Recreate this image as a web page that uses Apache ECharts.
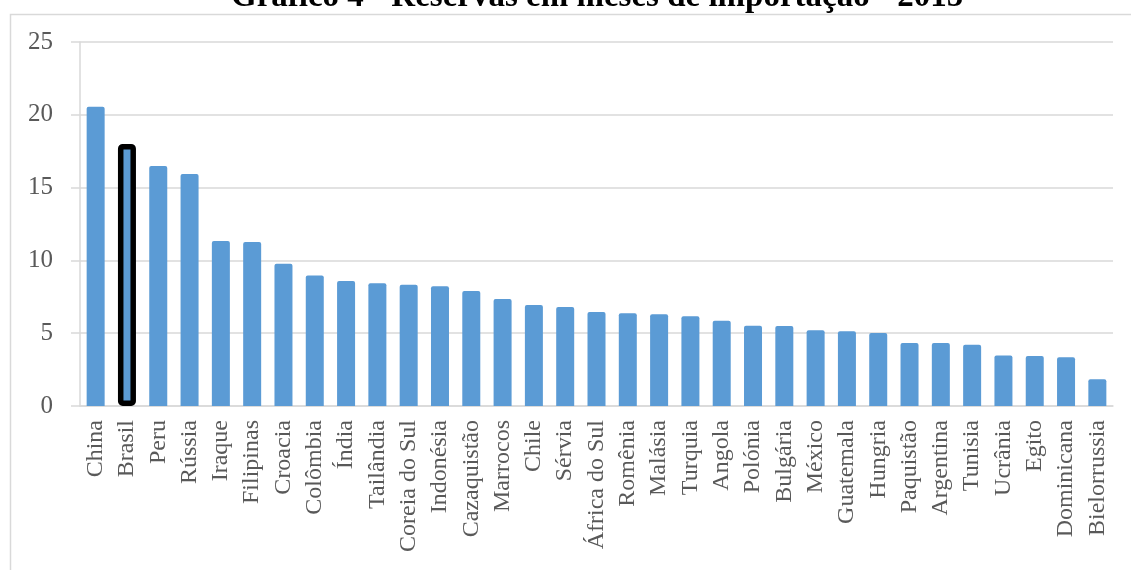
<!DOCTYPE html>
<html>
<head>
<meta charset="utf-8">
<title>Reservas em meses de importação - 2015</title>
<script src="https://cdn.jsdelivr.net/npm/echarts@6.0.0/dist/echarts.min.js"></script>
<style>
  html, body { margin: 0; padding: 0; background: #fff; }
  #chart { width: 1131px; height: 570px; }
</style>
</head>
<body>
<div id="chart"></div>
<script>
// dados
var countries = ['China', 'Brasil', 'Peru', 'Rússia', 'Iraque', 'Filipinas', 'Croacia', 'Colômbia', 'Índia',
  'Tailândia', 'Coreia do Sul', 'Indonésia', 'Cazaquistão', 'Marrocos', 'Chile', 'Sérvia', 'África do Sul',
  'Romênia', 'Malásia', 'Turquia', 'Angola', 'Polónia', 'Bulgária', 'México', 'Guatemala', 'Hungria',
  'Paquistão', 'Argentina', 'Tunisia', 'Ucrânia', 'Egito', 'Dominicana', 'Bielorrussia']
var months = [20.55, 18.0, 16.48, 15.93, 11.33, 11.26, 9.77, 8.97, 8.59,
  8.43, 8.33, 8.22, 7.9, 7.35, 6.94, 6.8, 6.46,
  6.37, 6.3, 6.16, 5.86, 5.52, 5.49, 5.2, 5.13, 5.01,
  4.33, 4.33, 4.21, 3.46, 3.43, 3.34, 1.83]
var yTicks = [0, 5, 10, 15, 20, 25]
var highlight = 'Brasil'

var chart = echarts.init(document.getElementById('chart'))

var mainData = months.map(function (v, i) { return countries[i] === highlight ? '-' : v })
var highlightData = months.map(function (v, i) { return countries[i] === highlight ? v : '-' })

var labelFont = 'Liberation Serif'
var gridColor = '#d9d9d9'

chart.setOption({
  animation: false,
  title: {
    text: 'Gráfico 4 - Reservas em meses de importação - 2015',
    left: 226,
    top: -24,
    textStyle: {
      fontFamily: labelFont,
      fontWeight: 'bold',
      fontSize: 33,
      color: '#000'
    }
  },
  graphic: [{
    // moldura da área do gráfico
    type: 'rect',
    left: 8,
    top: 12,
    silent: true,
    z: -1,
    shape: { width: 1140, height: 600 },
    style: { fill: 'none', stroke: gridColor, lineWidth: 1.5 }
  }],
  grid: {
    left: 80,
    right: 18,
    top: 42,
    bottom: 164
  },
  xAxis: [{
    type: 'category',
    data: countries,
    axisLine: { show: true, lineStyle: { color: gridColor, width: 1.5 } },
    axisTick: { show: false },
    axisLabel: {
      rotate: 90,
      margin: 14,
      interval: 0,
      fontFamily: labelFont,
      fontSize: 24,
      color: '#595959'
    }
  }, {
    // eixo oculto para destacar o Brasil
    type: 'category',
    data: countries,
    show: false
  }],
  yAxis: {
    type: 'value',
    min: yTicks[0],
    max: yTicks[yTicks.length - 1],
    interval: 5,
    axisLine: { show: true, lineStyle: { color: gridColor, width: 1.5 } },
    axisTick: { show: true, length: 9, lineStyle: { color: gridColor, width: 1.5 } },
    splitLine: { lineStyle: { color: gridColor, width: 1.5 } },
    axisLabel: {
      margin: 27,
      fontFamily: labelFont,
      fontSize: 25,
      color: '#595959'
    }
  },
  series: [{
    name: 'Reservas',
    type: 'bar',
    xAxisIndex: 0,
    barWidth: 18,
    data: mainData,
    itemStyle: {
      color: '#5b9bd5',
      borderRadius: [2, 2, 0, 0]
    }
  }, {
    name: highlight,
    type: 'bar',
    xAxisIndex: 1,
    barWidth: 18,
    data: highlightData,
    itemStyle: {
      color: '#5b9bd5',
      borderColor: '#000',
      borderWidth: 5.5,
      borderRadius: 2
    }
  }]
})
</script>
</body>
</html>
